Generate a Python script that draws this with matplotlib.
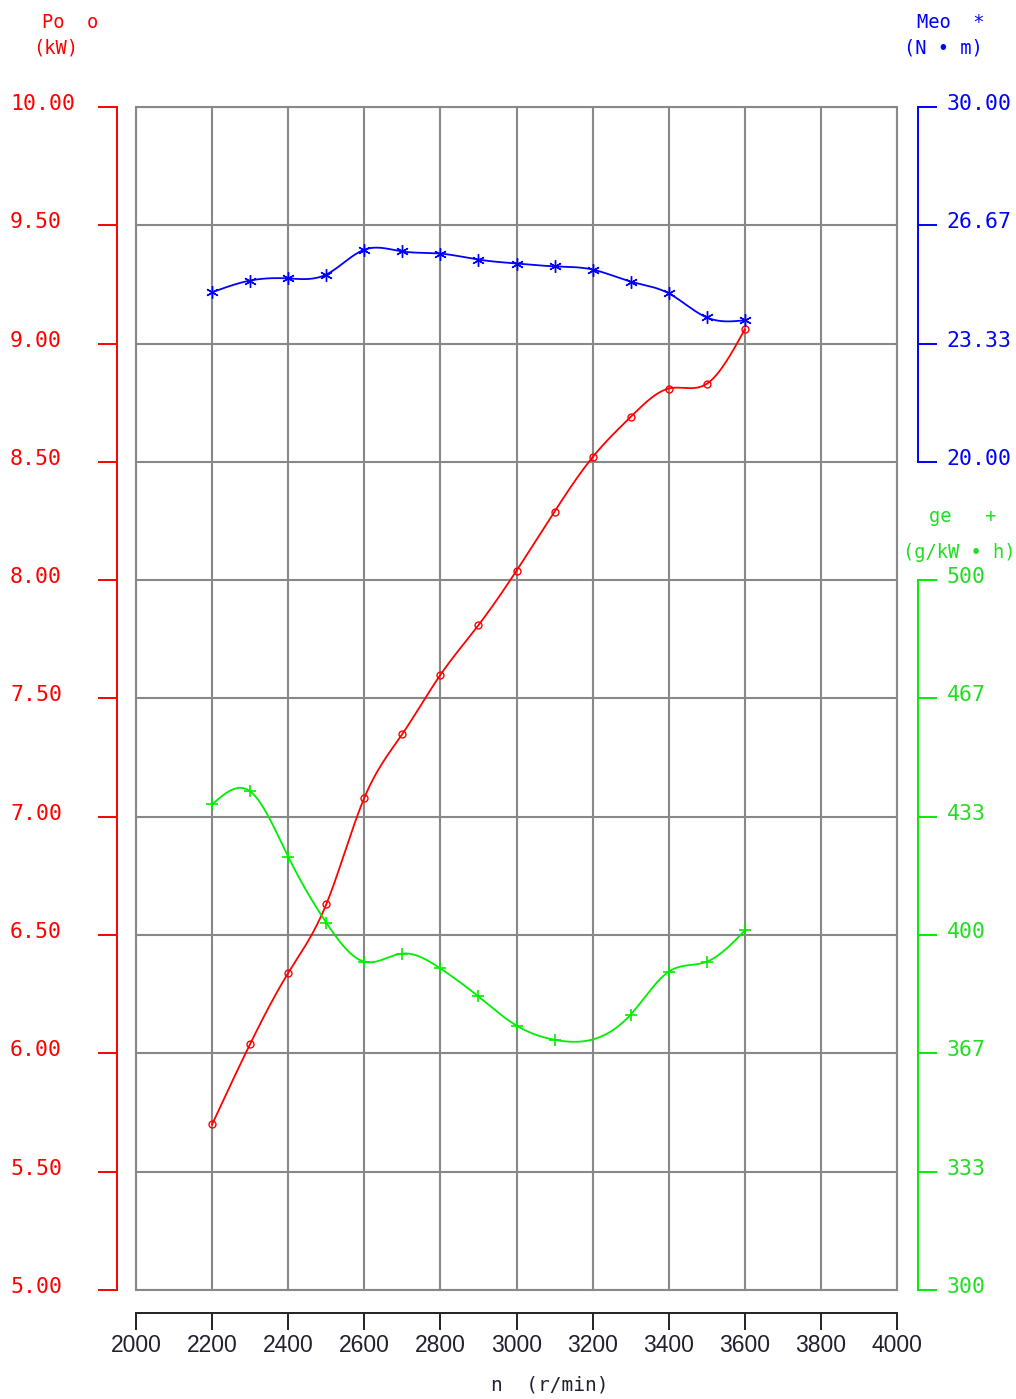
import matplotlib
matplotlib.use("Agg")
import matplotlib.pyplot as plt
import matplotlib.transforms as mtransforms
import numpy as np
from matplotlib.patches import Rectangle

# engine speed, r/min
rpm = [2200, 2300, 2400, 2500, 2600, 2700, 2800, 2900, 3000, 3100, 3200, 3300, 3400, 3500, 3600]
# power Po, kW
power = [5.70, 6.04, 6.34, 6.63, 7.08, 7.35, 7.60, 7.81, 8.04, 8.29, 8.52, 8.69, 8.81, 8.83, 9.06]
# torque Meo, N*m
torque = [24.78, 25.11, 25.17, 25.28, 25.98, 25.93, 25.87, 25.70, 25.59, 25.51, 25.42, 25.08, 24.75, 24.07, 23.99]
# fuel consumption ge, g/kW*h (no point at 3200)
rpm_ge = [2200, 2300, 2400, 2500, 2600, 2700, 2800, 2900, 3000, 3100, 3300, 3400, 3500, 3600]
ge = [436.8, 440.5, 422.1, 403.5, 392.5, 394.8, 390.6, 382.7, 374.5, 370.5, 377.6, 389.7, 392.5, 401.3]

x_ticks = list(range(2000, 4001, 200))
po_ticks = [5.0, 5.5, 6.0, 6.5, 7.0, 7.5, 8.0, 8.5, 9.0, 9.5, 10.0]
me_ticks = [20.0, 23.333, 26.667, 30.0]
me_labels = ["20.00", "23.33", "26.67", "30.00"]
ge_ticks = [300, 333.33, 366.67, 400, 433.33, 466.67, 500]
ge_labels = ["300", "333", "367", "400", "433", "467", "500"]


def smooth(x, y, n=400):
    # natural cubic spline through the measured points
    x = np.asarray(x, float)
    y = np.asarray(y, float)
    h = np.diff(x)
    m = len(x)
    A = np.zeros((m, m))
    r = np.zeros(m)
    A[0, 0] = A[-1, -1] = 1
    for i in range(1, m - 1):
        A[i, i - 1] = h[i - 1]
        A[i, i] = 2 * (h[i - 1] + h[i])
        A[i, i + 1] = h[i]
        r[i] = 6 * ((y[i + 1] - y[i]) / h[i] - (y[i] - y[i - 1]) / h[i - 1])
    M = np.linalg.solve(A, r)
    xs = np.linspace(x[0], x[-1], n)
    k = np.clip(np.searchsorted(x, xs) - 1, 0, m - 2)
    hk = h[k]
    a = x[k + 1] - xs
    b = xs - x[k]
    ys = (M[k] * a**3 + M[k + 1] * b**3) / (6 * hk) \
        + (y[k] / hk - M[k] * hk / 6) * a + (y[k + 1] / hk - M[k + 1] * hk / 6) * b
    return xs, ys


mono = "DejaVu Sans Mono"
px = 72 / 100  # points per pixel

fig = plt.figure(figsize=(10.16, 13.99), dpi=100)
W, H = 1016, 1399
ax = fig.add_axes([136 / W, (H - 1290) / H, 761 / W, 1183 / H])
lift = mtransforms.ScaledTranslation(0, 5 / 100, fig.dpi_scale_trans)

ax.set_xlim(2000, 4000)
ax.set_ylim(5, 10)
ax.set_xticks(x_ticks)
ax.set_yticks(po_ticks)
ax.grid(True, color="#888888", lw=1.5)
ax.add_patch(Rectangle((0, 0), 1, 1, transform=ax.transAxes, fill=False,
                       ec="#888888", lw=1.5, clip_on=False))

for s in ["top", "right"]:
    ax.spines[s].set_visible(False)
ax.spines["left"].set_position(("outward", 19 * px))
ax.spines["left"].set_color("red")
ax.spines["left"].set_linewidth(1.4)
ax.spines["bottom"].set_position(("outward", 23 * px))
ax.spines["bottom"].set_color("#222222")
ax.spines["bottom"].set_linewidth(1.4)

# left labels are left aligned at x = 10 px
ax.tick_params(axis="y", direction="out", length=19 * px, width=1.4, color="red",
               labelcolor="red", pad=88 * px)
ax.tick_params(axis="x", direction="out", length=17 * px, width=1.4, color="#222222",
               labelcolor="#202030", pad=3)
ax.set_yticklabels(["%.2f" % v for v in po_ticks], fontfamily=mono, fontsize=15.5, ha="left")
ax.set_xticklabels([str(v) for v in x_ticks], fontfamily="Liberation Sans", fontsize=16.5)
for t in ax.get_yticklabels():
    t.set_transform(t.get_transform() + lift)

xs, ys = smooth(rpm, power)
ax.plot(xs, ys, color="red", lw=1.3)
ax.plot(rpm, power, ls="none", marker="o", ms=5, mfc="none", mec="red", mew=1)

# torque axis
ax2 = ax.twinx()
ax2.set_ylim(30 - 100 / 3, 30)
for s in ["top", "left", "bottom"]:
    ax2.spines[s].set_visible(False)
ax2.spines["right"].set_position(("outward", 21 * px))
ax2.spines["right"].set_bounds(20, 30)
ax2.spines["right"].set_color("blue")
ax2.spines["right"].set_linewidth(1.4)
ax2.set_yticks(me_ticks)
ax2.set_yticklabels(me_labels, fontfamily=mono, fontsize=15.5)
ax2.tick_params(axis="y", direction="out", length=19 * px, width=1.4, color="blue",
                labelcolor="blue", pad=7)
for t in ax2.get_yticklabels():
    t.set_transform(t.get_transform() + lift)
xs, ys = smooth(rpm, torque)
ax2.plot(xs, ys, color="blue", lw=1.3)
ax2.plot(rpm, torque, ls="none", marker=(6, 2, 0), ms=9, mec="blue", mew=1)

# fuel consumption axis
ax3 = ax.twinx()
ax3.set_ylim(300, 300 + 2000 / 6)
for s in ["top", "left", "bottom"]:
    ax3.spines[s].set_visible(False)
ax3.spines["right"].set_position(("outward", 21 * px))
ax3.spines["right"].set_bounds(300, 500)
ax3.spines["right"].set_color("#00ee00")
ax3.spines["right"].set_linewidth(1.4)
ax3.set_yticks(ge_ticks)
ax3.set_yticklabels(ge_labels, fontfamily=mono, fontsize=15.5)
ax3.tick_params(axis="y", direction="out", length=19 * px, width=1.4, color="#00ee00",
                labelcolor="#22dd22", pad=7)
for t in ax3.get_yticklabels():
    t.set_transform(t.get_transform() + lift)
xs, ys = smooth(rpm_ge, ge)
ax3.plot(xs, ys, color="#00ee00", lw=1.3)
ax3.plot(rpm_ge, ge, ls="none", marker="+", ms=9, mec="#00ee00", mew=1.2)

# axis titles
def label(x, y, s, c, size=13.5):
    fig.text(x / W, 1 - y / H, s, color=c, fontfamily=mono, fontsize=size,
             ha="center", va="center")

label(70, 22, "Po  o", "red")
label(56, 48, "(kW)", "red")
label(951, 22, "Meo  *", "blue")
label(943, 48, "(N • m)", "blue")
label(963, 516, "ge   +", "#22dd22")
label(959, 552, "(g/kW • h)", "#22dd22")
label(550, 1385, "n  (r/min)", "#202030", 14)

fig.savefig("out.png", dpi=100)
